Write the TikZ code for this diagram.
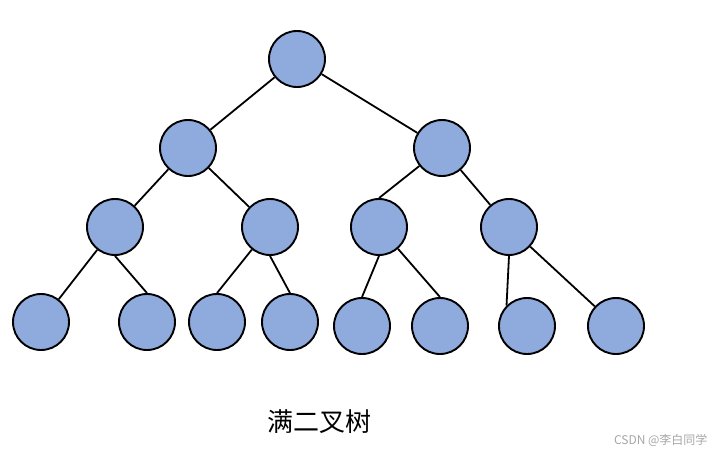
\documentclass[tikz,border=0pt]{standalone}
\usepackage{fontspec}
\newfontfamily\cjk{Noto Sans CJK SC}
\usepackage{xcolor}
\definecolor{nodeFill}{HTML}{8FAADC}
\definecolor{ink}{HTML}{000000}
\definecolor{muted}{HTML}{A6A6A6}
\tikzset{
  treenode/.style={circle, draw=ink, fill=nodeFill, line width=1.9pt, minimum size=56pt, inner sep=0pt},
  edge/.style={draw=ink, line width=1.8pt},
  caption/.style={font=\cjk\fontsize{26}{30}\selectfont, text=ink},
  mark note/.style={font=\cjk\fontsize{12}{14}\selectfont, text=muted},
}
\begin{document}
\begin{tikzpicture}[x=1pt,y=-1pt]
  \useasboundingbox (0,0) rectangle (721,453);

  % root
  \node[treenode] (r) at (297,59) {};
  % level 1
  \node[treenode] (a) at (188,148) {};
  \node[treenode] (b) at (442,148) {};
  % level 2
  \node[treenode] (aa) at (115,227) {};
  \node[treenode] (ab) at (270,227) {};
  \node[treenode] (ba) at (379,227) {};
  \node[treenode] (bb) at (509,227) {};
  % leaves
  \node[treenode] (aaa) at (41,322) {};
  \node[treenode] (aab) at (147,322) {};
  \node[treenode] (aba) at (217,322) {};
  \node[treenode] (abb) at (290,322) {};
  \node[treenode] (baa) at (362,326) {};
  \node[treenode] (bab) at (440,326) {};
  \node[treenode] (bba) at (527,326) {};
  \node[treenode] (bbb) at (616,326) {};

  \draw[edge] (r) -- (a);
  \draw[edge] (r) -- (b);
  \draw[edge] (a) -- (aa);
  \draw[edge] (a) -- (ab);
  \draw[edge] (b) -- (ba.north);
  \draw[edge] (b) -- (bb);
  \draw[edge] (aa) -- (aaa);
  \draw[edge] (aa.south) -- (aab.north);
  \draw[edge] (ab) -- (aba.north);
  \draw[edge] (ab.south) -- (abb.north);
  \draw[edge] (ba.south) -- (baa.north);
  \draw[edge] (ba) -- (bab.north);
  \draw[edge] (bb.south) -- (bba.north west);
  \draw[edge] (bb) -- (bbb);

  \node[caption] (title) at (319,422) {满二叉树};
  \node[mark note,anchor=east] (wm) at (711,440) {CSDN @李白同学};
\end{tikzpicture}
\end{document}
